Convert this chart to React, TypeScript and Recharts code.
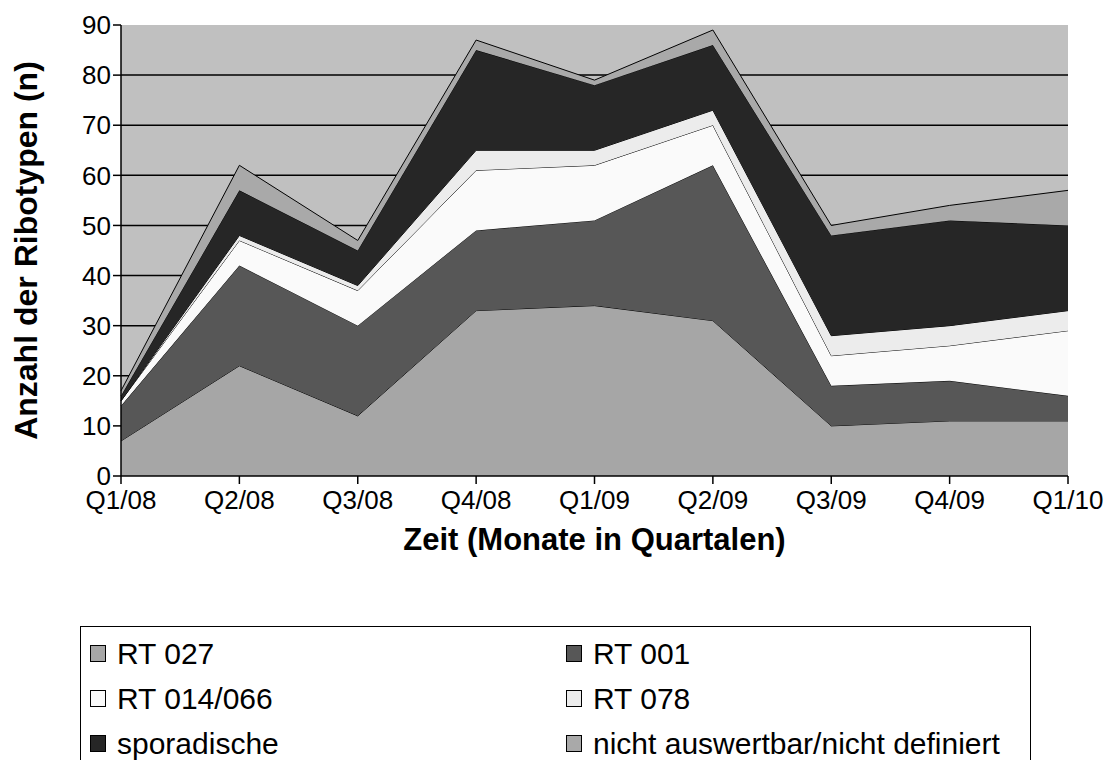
import { Area, AreaChart, CartesianGrid, XAxis, YAxis } from "recharts";

const quarters = ["Q1/08", "Q2/08", "Q3/08", "Q4/08", "Q1/09", "Q2/09", "Q3/09", "Q4/09", "Q1/10"];

const rt027 = [7, 22, 12, 33, 34, 31, 10, 11, 11];
const rt001 = [7, 20, 18, 16, 17, 31, 8, 8, 5];
const rt014 = [1, 5, 7, 12, 11, 8, 6, 7, 13];
const rt078 = [0, 1, 1, 4, 3, 3, 4, 4, 4];
const sporadic = [1, 9, 7, 20, 13, 13, 20, 21, 17];
const notDefined = [1, 5, 2, 2, 1, 3, 2, 3, 7];

const yTicks = [0, 10, 20, 30, 40, 50, 60, 70, 80, 90];
const gridValues = [10, 20, 30, 40, 50, 60, 70, 80];

const series = [
  { key: "rt027", name: "RT 027", color: "#a6a6a6", values: rt027 },
  { key: "rt001", name: "RT 001", color: "#575757", values: rt001 },
  { key: "rt014", name: "RT 014/066", color: "#fafafa", values: rt014 },
  { key: "rt078", name: "RT 078", color: "#ececec", values: rt078 },
  { key: "sporadic", name: "sporadische", color: "#262626", values: sporadic },
  { key: "notDefined", name: "nicht auswertbar/nicht definiert", color: "#a9a9a9", values: notDefined },
];

const data = quarters.map((q, i) => {
  const row: Record<string, string | number> = { q };
  series.forEach((s) => (row[s.key] = s.values[i]));
  return row;
});

const font = "'Liberation Sans', Arial, sans-serif";
const tickStyle = { fill: "#000", fontSize: 26, fontFamily: font };

export default function App() {
  return (
    <div
      style={{
        position: "absolute",
        left: 0,
        top: 0,
        width: 1120,
        height: 760,
        overflow: "hidden",
        background: "#fff",
        fontFamily: font,
      }}
    >
      <AreaChart width={1120} height={760} data={data} margin={{ top: 25, right: 52, bottom: 194, left: 0 }}>
        <CartesianGrid
          vertical={false}
          horizontalValues={gridValues}
          stroke="#000"
          strokeWidth={1.5}
          fill="#c0c0c0"
        />
        <XAxis
          dataKey="q"
          height={90}
          tick={tickStyle}
          tickSize={8}
          tickMargin={7}
          axisLine={{ stroke: "#000", strokeWidth: 1.5 }}
          tickLine={{ stroke: "#000", strokeWidth: 1.5 }}
          interval={0}
          label={{
            value: "Zeit (Monate in Quartalen)",
            position: "insideBottom",
            offset: 16,
            style: { fill: "#000", fontSize: 31, fontWeight: "bold", fontFamily: font },
          }}
        />
        <YAxis
          width={121}
          domain={[0, 90]}
          ticks={yTicks}
          tick={tickStyle}
          tickSize={8}
          axisLine={{ stroke: "#000", strokeWidth: 1.5 }}
          tickLine={{ stroke: "#000", strokeWidth: 1.5 }}
          label={{
            value: "Anzahl der Ribotypen (n)",
            angle: -90,
            position: "insideLeft",
            offset: 26,
            style: { textAnchor: "middle", fill: "#000", fontSize: 32, fontWeight: "bold", fontFamily: font },
          }}
        />
        {series.map((s) => (
          <Area
            key={s.key}
            type="linear"
            dataKey={s.key}
            name={s.name}
            stackId="1"
            stroke="#000"
            strokeWidth={1}
            fill={s.color}
            fillOpacity={1}
            isAnimationActive={false}
            dot={false}
            activeDot={false}
          />
        ))}
      </AreaChart>

      <div
        style={{
          position: "absolute",
          left: 80,
          top: 626,
          width: 951,
          height: 160,
          border: "1.5px solid #000",
          boxSizing: "border-box",
          display: "grid",
          gridTemplateColumns: "476px 460px",
          gridAutoRows: "45px",
          paddingTop: 4,
          paddingLeft: 9,
        }}
      >
        {series.map((s) => (
          <div
            key={s.key}
            style={{
              display: "flex",
              alignItems: "center",
              fontSize: 30,
              lineHeight: "33px",
              color: "#000",
              whiteSpace: "nowrap",
            }}
          >
            <span
              style={{
                display: "inline-block",
                width: 16,
                height: 17,
                background: s.color,
                border: "1.5px solid #000",
                boxSizing: "border-box",
                marginRight: 11,
              }}
            />
            {s.name}
          </div>
        ))}
      </div>
    </div>
  );
}
